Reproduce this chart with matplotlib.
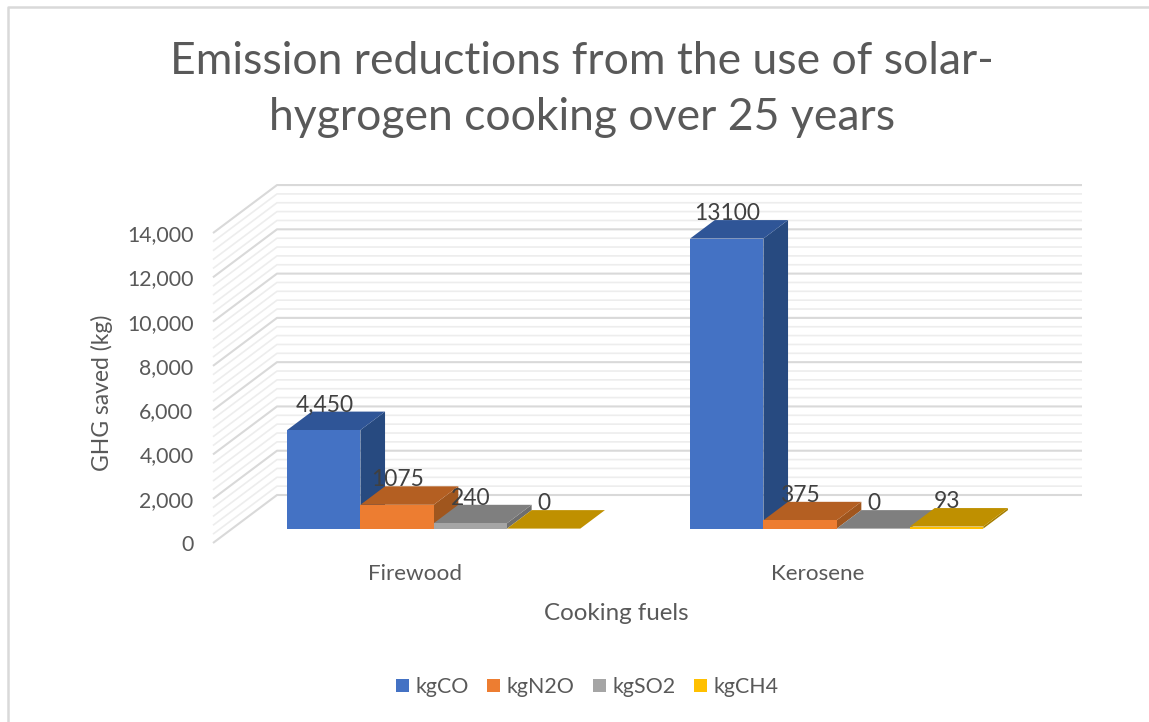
import matplotlib
matplotlib.use("Agg")
import matplotlib.pyplot as plt
import numpy as np
from matplotlib.patches import Patch, Polygon
from matplotlib.lines import Line2D

plt.rcParams['font.family'] = ['Lato', 'DejaVu Sans']

#------------------------------------------------------------------------------------
# Data
#------------------------------------------------------------------------------------
categories = ["Firewood", "Kerosene"]
series_names = ["kgCO", "kgN2O", "kgSO2", "kgCH4"]
kg_co = [4450, 13100]
kg_n2o = [1075, 375]
kg_so2 = [240, 0]
kg_ch4 = [0, 93]
label_co = ["4,450", "13100"]
label_n2o = ["1075", "375"]
label_so2 = ["240", "0"]
label_ch4 = ["0", "93"]
y_ticks = [0, 2000, 4000, 6000, 8000, 10000, 12000, 14000]
y_tick_labels = ["0", "2,000", "4,000", "6,000", "8,000", "10,000", "12,000", "14,000"]
minor_ticks = [v for v in range(0, 14000, 400) if v % 2000 != 0]

values = [kg_co, kg_n2o, kg_so2, kg_ch4]
labels = [label_co, label_n2o, label_so2, label_ch4]

front_cols = ["#4472C4", "#ED7D31", "#A5A5A5", "#FFC000"]
top_cols = ["#2F5597", "#B45F22", "#7F7F7F", "#BF9000"]
side_cols = ["#274A80", "#A0561E", "#6E6E6E", "#A67E00"]

#------------------------------------------------------------------------------------
# Layout: axes span the front-left floor corner to the back wall's top right
#------------------------------------------------------------------------------------
W, H = 1149, 722
fig = plt.figure(figsize=(W / 100, H / 100), dpi=100)
ax = fig.add_axes([213 / W, 1 - 543 / H, 869 / W, 358 / H])
ax.set_xlim(-0.5, -0.5 + 869 / 403)
ax.set_ylim(0, 358 / 0.02214)
ax.patch.set_visible(False)
for s in ax.spines.values():
    s.set_visible(False)

# oblique depth of the floor, in data units
depth_x = 64 / 403
depth_y = 48 / 0.02214
bar_w = 73.3 / 403
bar_front = 0.30
bar_back = 0.685

#------------------------------------------------------------------------------------
# Walls and gridlines
#------------------------------------------------------------------------------------
x_left, x_right = ax.get_xlim()
for v, col, lw in [(m, "#EDEDED", 1.2) for m in minor_ticks] + [(t, "#D9D9D9", 1.5) for t in y_ticks]:
    ax.plot([x_left, x_left + depth_x, x_right], [v, v + depth_y, v + depth_y],
            color=col, lw=lw, zorder=1, solid_capstyle='butt', clip_on=False)

#------------------------------------------------------------------------------------
# Bars: front face through ax.bar, then the top and side faces
#------------------------------------------------------------------------------------
sx0 = bar_front * depth_x
sy0 = bar_front * depth_y
dx = (bar_back - bar_front) * depth_x
dy = (bar_back - bar_front) * depth_y
x_pos = np.arange(len(categories))

for i, vals in enumerate(values):
    xs = x_pos - 2 * bar_w + (i + 0.5) * bar_w + sx0
    z = 3 + i
    ax.bar(xs, vals, width=bar_w, bottom=sy0, color=front_cols[i], zorder=z + 0.2)
    for x, v, txt in zip(xs, vals, labels[i]):
        x0, x1 = x - bar_w / 2, x + bar_w / 2
        y1 = sy0 + v
        ax.add_patch(Polygon([(x0, y1), (x1, y1), (x1 + dx, y1 + dy), (x0 + dx, y1 + dy)],
                             facecolor=top_cols[i], edgecolor='none', zorder=z + 0.1))
        ax.add_patch(Polygon([(x1, sy0), (x1, y1), (x1 + dx, y1 + dy), (x1 + dx, sy0 + dy)],
                             facecolor=side_cols[i], edgecolor='none', zorder=z))
        ax.annotate(txt, (x, y1), xytext=(0.5, 18), textcoords='offset points',
                    ha='center', va='center', fontsize=16.4, color="#404040", zorder=10)

#------------------------------------------------------------------------------------
# Axes text
#------------------------------------------------------------------------------------
ax.set_yticks(y_ticks, y_tick_labels)
ax.set_xticks(x_pos, categories)
ax.tick_params(axis='y', length=0, pad=14, labelsize=15.3, labelcolor="#595959")
ax.tick_params(axis='x', length=0, pad=15, labelsize=16.2, labelcolor="#595959")
fig.text(102 / W, 1 - 393 / H, "GHG saved (kg)", rotation=90, ha='center', va='center',
         fontsize=16.5, color="#595959")
fig.text(616 / W, 1 - 613 / H, "Cooking fuels", ha='center', va='center',
         fontsize=17.4, color="#595959")
fig.text(582 / W, 1 - 61 / H, "Emission reductions from the use of solar-", ha='center', va='center',
         fontsize=32, color="#595959")
fig.text(582 / W, 1 - 118 / H, "hygrogen cooking over 25 years", ha='center', va='center',
         fontsize=32, color="#595959")

handles = [Patch(facecolor=c, label=n) for c, n in zip(front_cols, series_names)]
fig.legend(handles=handles, ncol=4, loc='center', bbox_to_anchor=(587 / W, 1 - 687 / H),
           frameon=False, fontsize=15.4, labelcolor="#595959", handlelength=0.62, handleheight=0.62,
           handletextpad=0.28, columnspacing=0.87)

# chart area border: only top and left are inside the crop
fig.add_artist(Line2D([8 / W, 8 / W, 1], [0, 1 - 7 / H, 1 - 7 / H], color="#D9D9D9", lw=1.8))

fig.savefig("out.png", dpi=100)
